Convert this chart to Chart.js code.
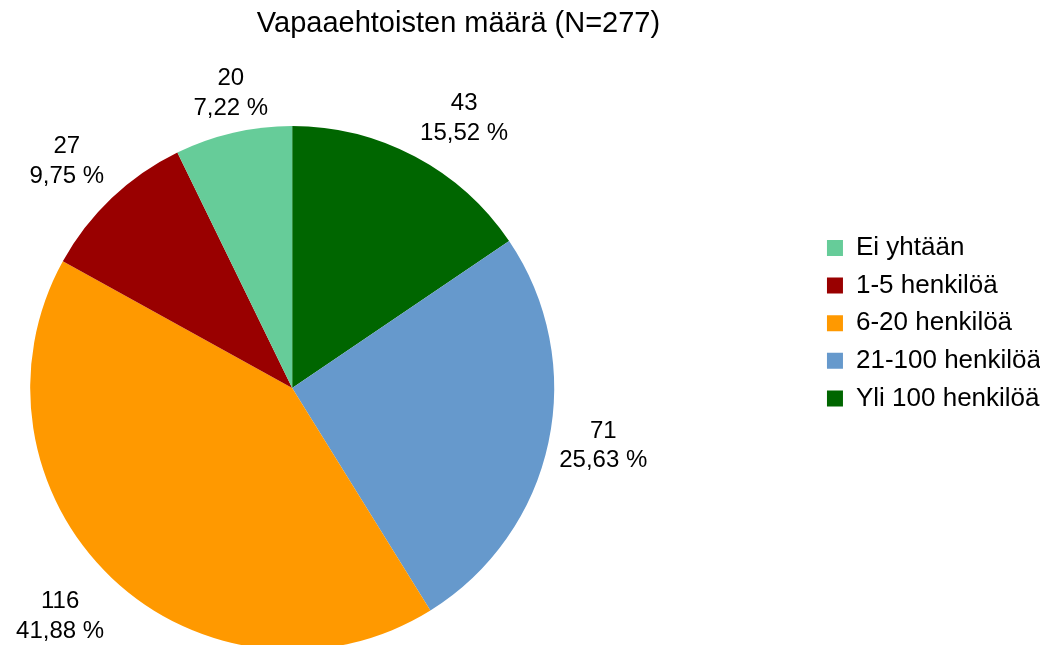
<!DOCTYPE html>
<html>
<head>
<meta charset="utf-8">
<script src="https://cdn.jsdelivr.net/npm/chart.js@4"></script>
<style>
  html, body { margin: 0; padding: 0; background: #fff; overflow: hidden; width: 1040px; height: 645px; }
  /* canvas is wider than the page and shifted left, so the pie can sit left of the plot area's centre */
  #chart { display: block; position: absolute; left: -231px; top: 0; }
</style>
</head>
<body>
<canvas id="chart" width="1282" height="645"></canvas>
<script>
// slices in drawing order, clockwise from 12 o'clock (legend is shown reversed)
var categories = ['Yli 100 henkilöä', '21-100 henkilöä', '6-20 henkilöä', '1-5 henkilöä', 'Ei yhtään'];
var counts = [43, 71, 116, 27, 20];
var percents = ['15,52 %', '25,63 %', '41,88 %', '9,75 %', '7,22 %'];
var colors = ['#006600', '#6699cc', '#ff9900', '#990000', '#66cc99'];
var title = 'Vapaaehtoisten määrä (N=277)';
var font = '"Liberation Sans", Arial, sans-serif';
var shift = 231;

// title sits over the whole picture, not over the pie
var titlePlugin = {
   id: 'titleText',
   afterDraw: function (chart) {
      var ctx = chart.ctx;
      ctx.save();
      ctx.fillStyle = '#000';
      ctx.font = '29px ' + font;
      ctx.textAlign = 'center';
      ctx.textBaseline = 'middle';
      ctx.fillText(title, 458.5 + shift, 24);
      ctx.restore();
   }
};

// "count / percent" outside each slice
var labelPlugin = {
   id: 'sliceLabels',
   afterDatasetsDraw: function (chart) {
      var ctx = chart.ctx;
      var arcs = chart.getDatasetMeta(0).data;
      var lineH = 29.5;
      ctx.save();
      ctx.font = '24px ' + font;
      ctx.fillStyle = '#000';
      ctx.textAlign = 'center';
      ctx.textBaseline = 'middle';
      arcs.forEach(function (arc, i) {
         var p = arc.getProps(['x', 'y', 'startAngle', 'endAngle', 'outerRadius'], true);
         var mid = (p.startAngle + p.endAngle) / 2;
         var dx = Math.cos(mid), dy = Math.sin(mid);
         var px = p.x + dx * (p.outerRadius + 11);
         var py = p.y + dy * (p.outerRadius + 11);
         var lines = [String(counts[i]), percents[i]];
         var w = Math.max.apply(null, lines.map(function (t) { return ctx.measureText(t).width; }));
         var h = lines.length * lineH;
         var cx = px, top = py - h / 2;
         if (dx > 0.3) cx = px + w / 2;
         else if (dx < -0.3) cx = px - w / 2;
         if (dy > 0.3) top = py;
         else if (dy < -0.3) top = py - h;
         lines.forEach(function (t, k) {
            ctx.fillText(t, cx, top + lineH * (k + 0.5) + 1);
         });
      });
      ctx.restore();
   }
};

new Chart(document.getElementById('chart'), {
   type: 'pie',
   data: {
      labels: categories,
      datasets: [{
         data: counts,
         backgroundColor: colors,
         borderWidth: 0,
         radius: 262,
         clip: false
      }]
   },
   options: {
      responsive: false,
      animation: false,
      layout: { padding: { left: 0, right: 0, top: 223.4, bottom: 92.4 } },
      plugins: {
         legend: {
            position: 'right',
            align: 'start',
            reverse: true,
            labels: {
               boxWidth: 16,
               boxHeight: 16,
               padding: 11.6,
               color: '#000',
               font: { family: font, size: 26 }
            }
         },
         tooltip: { enabled: false }
      }
   },
   plugins: [titlePlugin, labelPlugin]
});
</script>
</body>
</html>
